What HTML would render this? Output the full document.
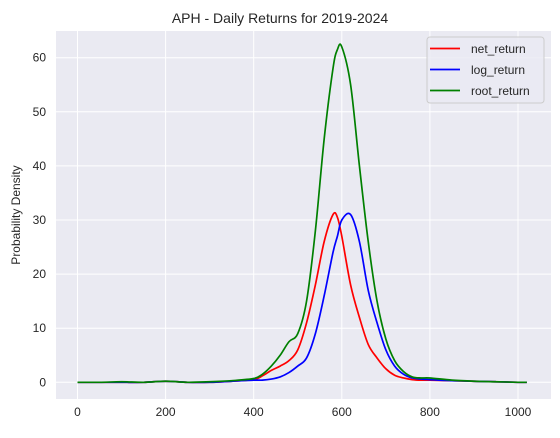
<!DOCTYPE html>
<html><head><meta charset="utf-8"><style>
body{margin:0;background:#fff;font-family:"Liberation Sans",Arial,sans-serif}
svg text{font-family:"Liberation Sans",Arial,sans-serif;fill:#262626}
</style></head><body>
<script>
const xs=[0,50,100,150,200,250,300,350,400,420,440,460,480,500,520,540,560,580,590,600,620,640,660,680,700,720,740,760,780,800,850,900,950,1000,1020];
const netReturn=[0,0,0,0,0.2,0,0,0.2,0.5,1.2,2.2,3,4,6,11,18,26,31,30.5,27,18,12,7,4.5,2.5,1.3,0.8,0.5,0.4,0.4,0.3,0.2,0.1,0,0];
const logReturn=[0,0,0,0,0.2,0,0,0.2,0.4,0.4,0.6,1,1.8,3,4.5,9,16,24,27,30,31,26,17,11,6,3,1.5,0.8,0.6,0.5,0.3,0.2,0.1,0,0];
const rootReturn=[0,0,0.1,0,0.2,0,0.1,0.3,0.7,1.5,3,5,7.5,9,15,28,45,58,61.5,62,55,40,26,15,8,4,2,1,0.8,0.8,0.4,0.2,0.1,0,0];
const xTicks=[0,200,400,600,800,1000];
const yTicks=[0,10,20,30,40,50,60];
</script>
<svg width="560" height="433" viewBox="0 0 560 433">
<rect x="56" y="31" width="495" height="368" fill="#eaeaf2"/>
<g id="grid"></g><g id="lines"></g><g id="labels"></g>
<text x="280" y="23" text-anchor="middle" font-size="14">APH - Daily Returns for 2019-2024</text>
<text transform="translate(20,215) rotate(-90)" text-anchor="middle" font-size="12">Probability Density</text>
<g>
<rect x="427" y="37" width="117" height="66" rx="3" fill="#eaeaf2" fill-opacity="0.8" stroke="#cccccc"/>
<line x1="430" y1="48.5" x2="460" y2="48.5" stroke="red" stroke-width="1.7"/>
<text x="471" y="53" font-size="12">net_return</text>
<line x1="430" y1="69.5" x2="460" y2="69.5" stroke="blue" stroke-width="1.7"/>
<text x="471" y="74" font-size="12">log_return</text>
<line x1="430" y1="90.5" x2="460" y2="90.5" stroke="green" stroke-width="1.7"/>
<text x="471" y="95" font-size="12">root_return</text>
</g>
</svg>
<script>
const NS="http://www.w3.org/2000/svg";
const sx=v=>77.5+v*0.4405, sy=v=>382.3-v*5.41;
const grid=document.getElementById('grid'),lab=document.getElementById('labels'),lines=document.getElementById('lines');
function mk(t,a,p){const e=document.createElementNS(NS,t);for(const k in a)e.setAttribute(k,a[k]);p.appendChild(e);return e;}
xTicks.forEach(t=>{const l=mk('line',{x1:sx(t),x2:sx(t),y1:31,y2:399,stroke:'#fff','stroke-width':1},grid);


const tx=mk('text',{x:sx(t),y:416,'text-anchor':'middle','font-size':12},lab);tx.textContent=t;

});
yTicks.forEach(t=>{const l=mk('line',{x1:56,x2:551,y1:sy(t),y2:sy(t),stroke:'#fff','stroke-width':1},grid);


const tx=mk('text',{x:46,y:sy(t)+4,'text-anchor':'end','font-size':12},lab);tx.textContent=t;

});
function path(vals){const p=xs.map((x,i)=>[sx(x),sy(vals[i])]);let d='M'+p[0][0]+','+p[0][1];
for(let i=0;i<p.length-1;i++){const p0=p[i-1]||p[i],p1=p[i],p2=p[i+1],p3=p[i+2]||p2;
d+=' C'+(p1[0]+(p2[0]-p0[0])/6)+','+(p1[1]+(p2[1]-p0[1])/6)+' '+(p2[0]-(p3[0]-p1[0])/6)+','+(p2[1]-(p3[1]-p1[1])/6)+' '+p2[0]+','+p2[1];}return d;}
[[netReturn,'red','net-return-line'],[logReturn,'blue','log-return-line'],[rootReturn,'green','root-return-line']].forEach(s=>{
const e=mk('path',{d:path(s[0]),fill:'none',stroke:s[1],'stroke-width':1.7},lines);

});
</script>
</body></html>
